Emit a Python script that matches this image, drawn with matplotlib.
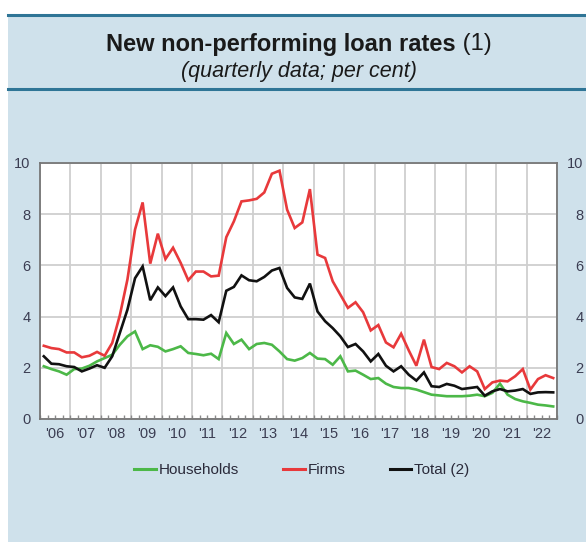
import numpy as np
import matplotlib.pyplot as plt
from matplotlib.patches import Rectangle
from matplotlib.lines import Line2D
from matplotlib.ticker import MultipleLocator, FuncFormatter

plt.rcParams['font.family'] = ['Liberation Sans', 'DejaVu Sans']

# quarterly data, 2006 Q1 - 2022 Q4
years = np.arange(2006, 2023)
quarters = np.array([y + (q - 0.5) / 4 for y in years for q in range(1, 5)])

households = [2.06, 1.95, 1.86, 1.73, 1.95, 1.97, 2.08, 2.25,
              2.38, 2.51, 2.90, 3.23, 3.42, 2.73, 2.88, 2.82,
              2.64, 2.73, 2.84, 2.58, 2.54, 2.49, 2.55, 2.34,
              3.36, 2.93, 3.10, 2.73, 2.93, 2.97, 2.90, 2.64,
              2.34, 2.28, 2.38, 2.58, 2.36, 2.34, 2.12, 2.45,
              1.86, 1.89, 1.73, 1.56, 1.60, 1.38, 1.25, 1.21,
              1.21, 1.15, 1.05, 0.95, 0.92, 0.89, 0.89, 0.89,
              0.91, 0.95, 0.89, 1.02, 1.38, 0.95, 0.78, 0.69,
              0.63, 0.56, 0.53, 0.49]
firms = [2.86, 2.77, 2.73, 2.60, 2.60, 2.41, 2.47, 2.62,
         2.47, 2.97, 4.05, 5.45, 7.40, 8.46, 6.07, 7.24,
         6.25, 6.69, 6.10, 5.42, 5.76, 5.76, 5.57, 5.60,
         7.10, 7.72, 8.50, 8.54, 8.60, 8.85, 9.58, 9.70,
         8.18, 7.46, 7.68, 8.98, 6.42, 6.29, 5.38, 4.86,
         4.34, 4.56, 4.17, 3.46, 3.67, 2.99, 2.80, 3.33,
         2.68, 2.08, 3.10, 2.03, 1.95, 2.19, 2.06, 1.82,
         2.06, 1.86, 1.17, 1.43, 1.50, 1.47, 1.67, 1.95,
         1.15, 1.56, 1.71, 1.60]
total = [2.45, 2.16, 2.14, 2.06, 2.03, 1.86, 1.97, 2.10,
         2.00, 2.45, 3.36, 4.27, 5.50, 5.96, 4.64, 5.14,
         4.80, 5.14, 4.40, 3.90, 3.90, 3.88, 4.06, 3.78,
         5.01, 5.16, 5.61, 5.42, 5.38, 5.55, 5.80, 5.90,
         5.12, 4.75, 4.69, 5.29, 4.20, 3.82, 3.55, 3.23,
         2.81, 2.93, 2.64, 2.25, 2.54, 2.08, 1.86, 2.06,
         1.73, 1.50, 1.82, 1.28, 1.25, 1.37, 1.30, 1.17,
         1.21, 1.25, 0.91, 1.08, 1.17, 1.08, 1.11, 1.17,
         0.98, 1.04, 1.05, 1.04]

labels = ['Households', 'Firms', 'Total (2)']
colors = ['#4cb848', '#e8393b', '#111111']

W, H = 586, 542
fig = plt.figure(figsize=(W / 100, H / 100), dpi=100)
fig.patch.set_facecolor('white')

panel = '#cfe1eb'
rule = '#2f7596'
fig.patches.append(Rectangle((8 / W, 0), 1, 1 - 14 / H, transform=fig.transFigure,
                             facecolor=panel, edgecolor='none', zorder=-5))
for yy in (15, 89):
    fig.lines.append(Line2D([8 / W, 1], [1 - yy / H] * 2, transform=fig.transFigure,
                            color=rule, lw=2.2, zorder=-4))

# title, bold part + regular "(1)"
t1 = fig.text(0, 1 - 44 / H, 'New non-performing loan rates', fontsize=17,
              fontweight='bold', color='#1a1a1a', ha='left', va='center')
t2 = fig.text(0, 1 - 44 / H, ' (1)', fontsize=17, color='#1a1a1a', ha='left', va='center')
fig.canvas.draw()
r = fig.canvas.get_renderer()
w1 = t1.get_window_extent(r).width
w2 = t2.get_window_extent(r).width
x0 = 299 - (w1 + w2) / 2
t1.set_x(x0 / W)
t2.set_x((x0 + w1) / W)
fig.text(299 / W, 1 - 71 / H, '(quarterly data; per cent)', fontsize=15.5,
         style='italic', color='#1a1a1a', ha='center', va='center')

ax = fig.add_axes([40 / W, 1 - 419 / H, 517 / W, 256 / H])
ax.set_facecolor('white')
for s, c in zip([households, firms, total], colors):
    ax.plot(quarters, s, color=c, lw=1.9, solid_joinstyle='miter', zorder=3)

ax.set_xlim(2006, 2023)
ax.set_ylim(0, 10)
ax.yaxis.set_major_locator(MultipleLocator(2))
ax.xaxis.set_major_locator(MultipleLocator(1))
ax.xaxis.set_minor_locator(MultipleLocator(0.25))
ax.xaxis.set_major_formatter(FuncFormatter(lambda v, p: ''))
ax.xaxis.set_minor_formatter(
    FuncFormatter(lambda v, p: "'%02d" % (int(v) % 100) if abs(v % 1 - 0.5) < 1e-6 else ''))
ax.grid(True, which='major', color='#cfcfcf', lw=1.3)
ax.set_axisbelow(True)
tick_col = '#3b3d52'
ax.tick_params(axis='x', which='both', direction='in', length=3, width=1,
               color='#8a8a8a', labelsize=10.5, labelcolor=tick_col, pad=6)
ax.tick_params(axis='y', length=0, labelsize=10.5, labelcolor=tick_col, pad=7)
for sp in ax.spines.values():
    sp.set_color('#777777')
    sp.set_linewidth(1.3)

ax2 = ax.twinx()
ax2.set_ylim(0, 10)
ax2.yaxis.set_major_locator(MultipleLocator(2))
ax2.tick_params(axis='y', length=0, labelsize=10.5, labelcolor=tick_col, pad=19)
for lbl in ax2.get_yticklabels():
    lbl.set_horizontalalignment('right')
for sp in ax2.spines.values():
    sp.set_visible(False)

handles = [Line2D([], [], color=c, lw=2.2) for c in colors]
fig.legend(handles, labels, loc='center', bbox_to_anchor=(302 / W, 1 - 470 / H),
           ncol=3, frameon=False, fontsize=11, handlelength=1.4, handletextpad=0.2,
           columnspacing=2.9, labelcolor='#2a2a3a')

fig.savefig('out.png', dpi=100)
